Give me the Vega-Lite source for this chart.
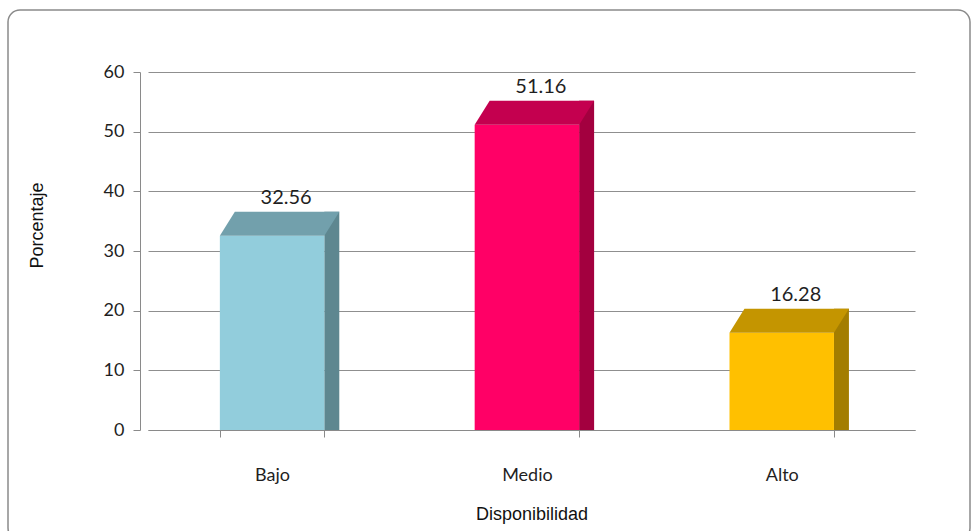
{
  "$schema": "https://vega.github.io/schema/vega-lite/v6.json",
  "width": 962,
  "height": 530,
  "autosize": "none",
  "padding": {"left": 8, "top": 10, "right": 9, "bottom": 0},
  "background": "white",
  "config": {
    "view": {"stroke": "#8a8a8a", "strokeWidth": 1.5, "cornerRadius": 12},
    "axis": {
      "domainColor": "#8a8a8a",
      "tickColor": "#8a8a8a",
      "gridColor": "#8f8f8f",
      "labelColor": "#1f1f1f",
      "titleColor": "#111111",
      "labelFont": "Lato",
      "titleFont": "Liberation Sans",
      "titleFontWeight": "normal",
      "titleFontSize": 18
    }
  },
  "data": {
    "values": [
      {"nivel": "Bajo", "porcentaje": 32.56},
      {"nivel": "Medio", "porcentaje": 51.16},
      {"nivel": "Alto", "porcentaje": 16.28}
    ]
  },
  "encoding": {
    "x": {
      "field": "nivel",
      "type": "nominal",
      "sort": ["Bajo", "Medio", "Alto"],
      "scale": {"range": [140, 907], "paddingInner": 0.59, "paddingOuter": 0.3, "align": 0.47},
      "axis": {
        "title": "Disponibilidad",
        "orient": "bottom",
        "offset": -110,
        "labelAngle": 0,
        "labelFontSize": 18,
        "labelPadding": 29,
        "tickBand": "extent",
        "tickSize": 7,
        "titlePadding": 21
      }
    },
    "y": {
      "field": "porcentaje",
      "type": "quantitative",
      "scale": {"domain": [0, 60], "range": [420, 62], "nice": false},
      "axis": {
        "title": "Porcentaje",
        "values": [0, 10, 20, 30, 40, 50, 60],
        "offset": -132,
        "grid": true,
        "tickSize": 7,
        "labelFontSize": 18,
        "labelPadding": 9,
        "titleAngle": 270,
        "titleX": -103,
        "titleY": 215,
        "titleAlign": "center",
        "titleBaseline": "middle"
      }
    }
  },
  "layer": [
    {
      "mark": {"type": "bar", "width": 15, "xOffset": 59.7, "yOffset": -24},
      "encoding": {
        "y2": {"datum": 0},
        "color": {
          "field": "nivel",
          "type": "nominal",
          "legend": null,
          "scale": {"domain": ["Bajo", "Medio", "Alto"], "range": ["#5E8790", "#A3003F", "#A37D00"]}
        }
      }
    },
    {
      "mark": {"type": "bar"},
      "encoding": {
        "y2": {"datum": 0},
        "color": {
          "field": "nivel",
          "type": "nominal",
          "legend": null,
          "scale": {"domain": ["Bajo", "Medio", "Alto"], "range": ["#92CDDC", "#FF0066", "#FFC000"]}
        }
      }
    },
    {
      "mark": {
        "type": "point",
        "shape": "M-1.045,0L1.045,0L1.345,-0.48L-0.745,-0.48Z",
        "size": 10000,
        "filled": true,
        "opacity": 1,
        "strokeWidth": 0
      },
      "encoding": {
        "color": {
          "field": "nivel",
          "type": "nominal",
          "legend": null,
          "scale": {"domain": ["Bajo", "Medio", "Alto"], "range": ["#72A0AC", "#C4004F", "#C49500"]}
        }
      }
    },
    {
      "mark": {"type": "text", "dx": 14, "dy": -28, "baseline": "bottom", "font": "Lato", "fontSize": 20, "color": "#1f1f1f"},
      "encoding": {
        "text": {"field": "porcentaje", "type": "quantitative", "format": ".2f"}
      }
    }
  ],
  "resolve": {"scale": {"color": "independent"}}
}
